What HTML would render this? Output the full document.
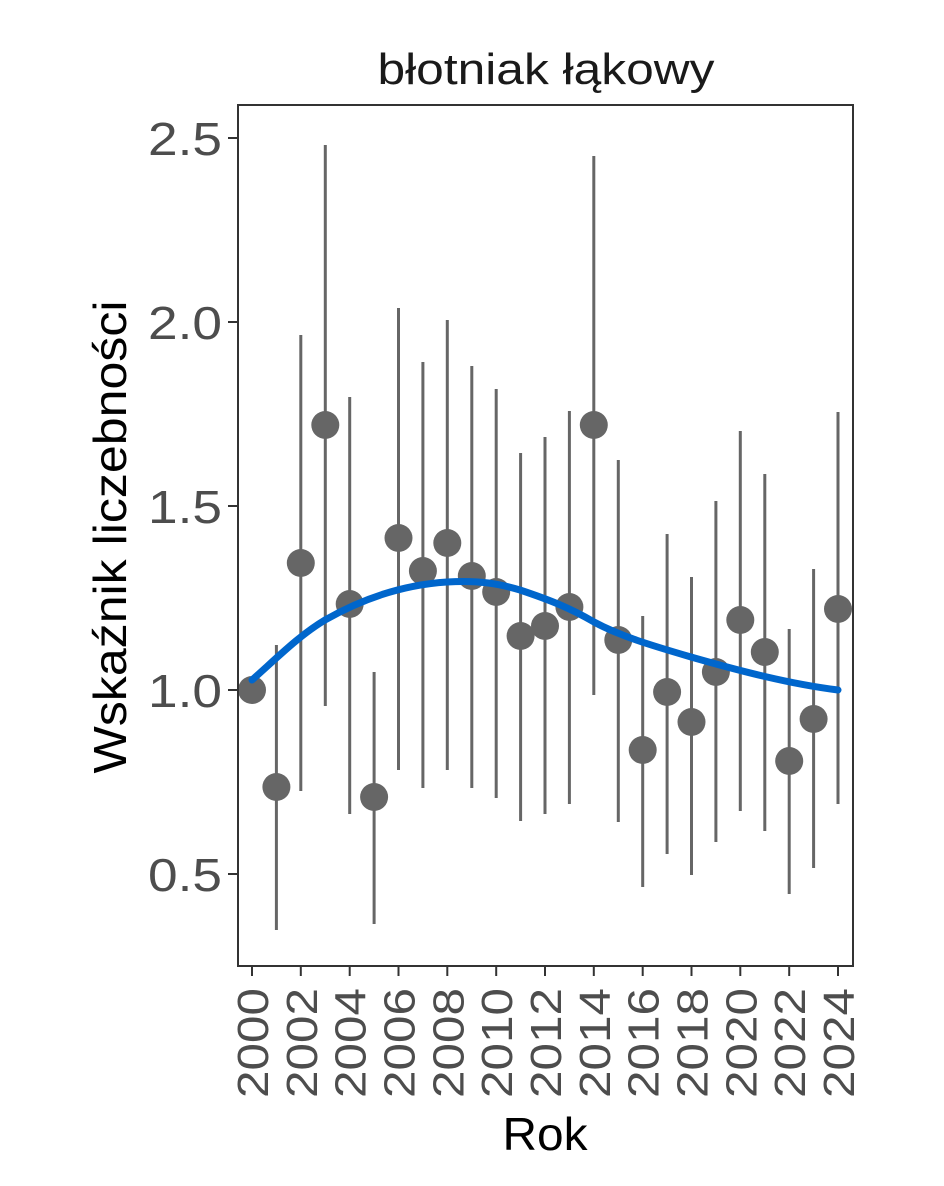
<!DOCTYPE html>
<html><head><meta charset="utf-8"><style>body{margin:0;background:#fff}</style></head><body>
<svg width="944" height="1181" xmlns="http://www.w3.org/2000/svg" font-family="Liberation Sans, sans-serif">
<rect width="944" height="1181" fill="#fff"/>
<text x="546" y="84" font-size="44" text-anchor="middle" fill="#1a1a1a" textLength="337" lengthAdjust="spacingAndGlyphs">błotniak łąkowy</text>
<g stroke="#333" stroke-width="2">
<line x1="228" y1="138" x2="238" y2="138"/><line x1="228" y1="322" x2="238" y2="322"/><line x1="228" y1="506" x2="238" y2="506"/><line x1="228" y1="690" x2="238" y2="690"/><line x1="228" y1="874" x2="238" y2="874"/>
</g>
<g font-size="46" fill="#4d4d4d" text-anchor="end">
<text x="222" y="155" textLength="74" lengthAdjust="spacingAndGlyphs">2.5</text><text x="222" y="339" textLength="74" lengthAdjust="spacingAndGlyphs">2.0</text><text x="222" y="523" textLength="74" lengthAdjust="spacingAndGlyphs">1.5</text><text x="222" y="707" textLength="74" lengthAdjust="spacingAndGlyphs">1.0</text><text x="222" y="891" textLength="74" lengthAdjust="spacingAndGlyphs">0.5</text>
</g>
<text transform="translate(126,537) rotate(-90)" font-size="46" text-anchor="middle" fill="#000" textLength="473" lengthAdjust="spacingAndGlyphs">Wskaźnik liczebności</text>
<text x="545" y="1150" font-size="46" text-anchor="middle" fill="#000" textLength="85" lengthAdjust="spacingAndGlyphs">Rok</text>
<g stroke="#666" stroke-width="3">
<line x1="276.4" y1="645" x2="276.4" y2="930"/>
<line x1="300.8" y1="335" x2="300.8" y2="791"/>
<line x1="325.3" y1="145" x2="325.3" y2="706"/>
<line x1="349.7" y1="397" x2="349.7" y2="814"/>
<line x1="374.1" y1="672" x2="374.1" y2="924"/>
<line x1="398.5" y1="308" x2="398.5" y2="770"/>
<line x1="422.9" y1="362" x2="422.9" y2="788"/>
<line x1="447.3" y1="320" x2="447.3" y2="770"/>
<line x1="471.8" y1="366" x2="471.8" y2="788"/>
<line x1="496.2" y1="389" x2="496.2" y2="798"/>
<line x1="520.6" y1="453" x2="520.6" y2="821"/>
<line x1="545" y1="437" x2="545" y2="814"/>
<line x1="569.4" y1="411" x2="569.4" y2="804"/>
<line x1="593.8" y1="156" x2="593.8" y2="695"/>
<line x1="618.3" y1="460" x2="618.3" y2="822"/>
<line x1="642.7" y1="616" x2="642.7" y2="887"/>
<line x1="667.1" y1="534" x2="667.1" y2="854"/>
<line x1="691.5" y1="577" x2="691.5" y2="875"/>
<line x1="715.9" y1="501" x2="715.9" y2="842"/>
<line x1="740.3" y1="431" x2="740.3" y2="811"/>
<line x1="764.8" y1="474" x2="764.8" y2="831"/>
<line x1="789.2" y1="629" x2="789.2" y2="894"/>
<line x1="813.6" y1="569" x2="813.6" y2="868"/>
<line x1="838" y1="412" x2="838" y2="804"/>
</g>
<g fill="#666">
<circle cx="252" cy="690" r="14"/><circle cx="276.4" cy="787" r="14"/><circle cx="300.8" cy="563" r="14"/><circle cx="325.3" cy="425" r="14"/><circle cx="349.7" cy="604" r="14"/><circle cx="374.1" cy="797" r="14"/><circle cx="398.5" cy="538" r="14"/><circle cx="422.9" cy="571" r="14"/><circle cx="447.3" cy="543" r="14"/><circle cx="471.8" cy="576" r="14"/><circle cx="496.2" cy="592" r="14"/><circle cx="520.6" cy="636" r="14"/><circle cx="545" cy="626" r="14"/><circle cx="569.4" cy="607" r="14"/><circle cx="593.8" cy="425" r="14"/><circle cx="618.3" cy="640" r="14"/><circle cx="642.7" cy="750" r="14"/><circle cx="667.1" cy="692" r="14"/><circle cx="691.5" cy="722" r="14"/><circle cx="715.9" cy="672" r="14"/><circle cx="740.3" cy="620" r="14"/><circle cx="764.8" cy="652" r="14"/><circle cx="789.2" cy="761" r="14"/><circle cx="813.6" cy="719" r="14"/><circle cx="838" cy="609" r="14"/>
</g>
<path d="M252,680 C280,655 300,635 325,620 C360,600 400,585 447,582 C480,580 500,584 520,590 C550,600 570,608 594,622 C620,636 650,645 691,657 C740,671 790,684 838,690" fill="none" stroke="#0066CC" stroke-width="7" stroke-linecap="round"/>
<rect x="238" y="105" width="615" height="861" fill="none" stroke="#333" stroke-width="2"/>
<g stroke="#333" stroke-width="2">
<line x1="252" y1="966" x2="252" y2="976"/><line x1="300.8" y1="966" x2="300.8" y2="976"/><line x1="349.7" y1="966" x2="349.7" y2="976"/><line x1="398.5" y1="966" x2="398.5" y2="976"/><line x1="447.3" y1="966" x2="447.3" y2="976"/><line x1="496.2" y1="966" x2="496.2" y2="976"/><line x1="545" y1="966" x2="545" y2="976"/><line x1="593.8" y1="966" x2="593.8" y2="976"/><line x1="642.7" y1="966" x2="642.7" y2="976"/><line x1="691.5" y1="966" x2="691.5" y2="976"/><line x1="740.3" y1="966" x2="740.3" y2="976"/><line x1="789.2" y1="966" x2="789.2" y2="976"/><line x1="838" y1="966" x2="838" y2="976"/>
</g>
<g font-size="44" fill="#4d4d4d" text-anchor="end">
<text transform="translate(268,988) rotate(-90)" textLength="110" lengthAdjust="spacingAndGlyphs">2000</text>
<text transform="translate(316.8,988) rotate(-90)" textLength="110" lengthAdjust="spacingAndGlyphs">2002</text>
<text transform="translate(365.7,988) rotate(-90)" textLength="110" lengthAdjust="spacingAndGlyphs">2004</text>
<text transform="translate(414.5,988) rotate(-90)" textLength="110" lengthAdjust="spacingAndGlyphs">2006</text>
<text transform="translate(463.3,988) rotate(-90)" textLength="110" lengthAdjust="spacingAndGlyphs">2008</text>
<text transform="translate(512.2,988) rotate(-90)" textLength="110" lengthAdjust="spacingAndGlyphs">2010</text>
<text transform="translate(561,988) rotate(-90)" textLength="110" lengthAdjust="spacingAndGlyphs">2012</text>
<text transform="translate(609.8,988) rotate(-90)" textLength="110" lengthAdjust="spacingAndGlyphs">2014</text>
<text transform="translate(658.7,988) rotate(-90)" textLength="110" lengthAdjust="spacingAndGlyphs">2016</text>
<text transform="translate(707.5,988) rotate(-90)" textLength="110" lengthAdjust="spacingAndGlyphs">2018</text>
<text transform="translate(756.3,988) rotate(-90)" textLength="110" lengthAdjust="spacingAndGlyphs">2020</text>
<text transform="translate(805.2,988) rotate(-90)" textLength="110" lengthAdjust="spacingAndGlyphs">2022</text>
<text transform="translate(854,988) rotate(-90)" textLength="110" lengthAdjust="spacingAndGlyphs">2024</text>
</g>
</svg>
</body></html>
